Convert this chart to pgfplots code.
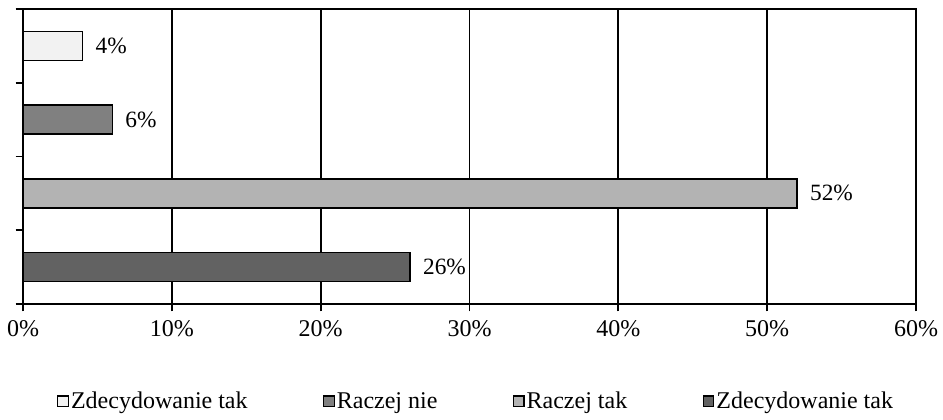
\documentclass[border=0pt]{standalone}
\usepackage{fontspec}
\setmainfont{Liberation Serif}
\usepackage{pgfplots}
\pgfplotsset{compat=1.18}
\definecolor{cA}{HTML}{F2F2F2}
\definecolor{cB}{HTML}{808080}
\definecolor{cC}{HTML}{B3B3B3}
\definecolor{cD}{HTML}{626262}
\begin{document}
\begin{tikzpicture}
\begin{axis}[
  at={(17.25pt,86.25pt)}, anchor=south west,
  scale only axis, width=669.75pt, height=221.25pt,
  xbar, bar shift=0pt, bar width=21.75pt,
  xmin=0, xmax=60, ymin=-0.5, ymax=3.5,
  xtick={0,10,...,60},
  xticklabel={\pgfmathprintnumber{\tick}\%},
  /pgf/number format/assume math mode=true,
  ytick={-0.5,0.5,1.5,2.5,3.5}, yticklabels={},
  tick pos=left,
  xmajorgrids, major grid style={black, line width=1.3pt},
  axis line style={black, line width=1.3pt},
  tick style={black, line width=1.3pt},
  tick align=outside, major tick length=5.5pt,
  xticklabel style={font=\fontsize{18}{21}\selectfont, yshift=-3pt},
  point meta=x,
  nodes near coords={\pgfmathprintnumber{\pgfplotspointmeta}\%},
  nodes near coords style={font=\fontsize{17.5}{20}\selectfont, anchor=west, xshift=6pt},
  every axis plot/.append style={draw=black, line width=1.1pt},
  legend columns=4,
  legend style={at={(0.038,-0.33)}, anchor=west, draw=none, inner sep=0pt,
    font=\fontsize{18}{21}\selectfont,
    /tikz/every even column/.append style={column sep=55pt},
    nodes={inner sep=1.5pt}},
  legend image code/.code={\draw[#1, line width=0.9pt] (0pt,-4pt) rectangle (8pt,4pt);},
]
\addplot[fill=cA] coordinates {(4,3)};
\addplot[fill=cB] coordinates {(6,2)};
\addplot[fill=cC] coordinates {(52,1)};
\addplot[fill=cD] coordinates {(26,0)};
\legend{Zdecydowanie tak, Raczej nie, Raczej tak, Zdecydowanie tak}
\end{axis}
\pgfresetboundingbox
\path (0,0) rectangle (707.25pt,314.25pt);
\end{tikzpicture}
\end{document}
